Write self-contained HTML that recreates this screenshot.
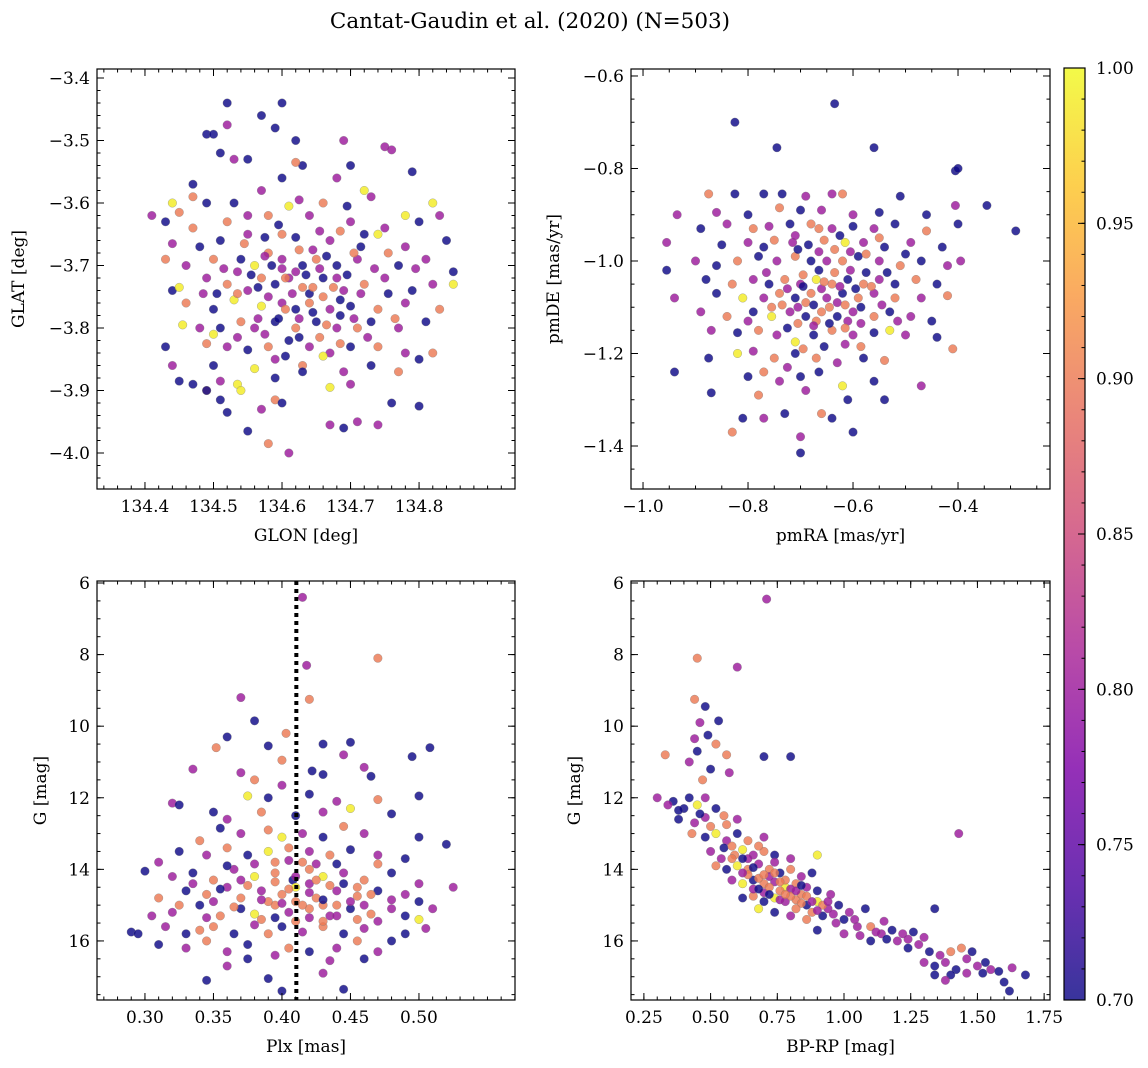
<!DOCTYPE html>
<html><head><meta charset="utf-8">
<style>
body{margin:0;background:#fff;}
svg{display:block;font-family:"DejaVu Serif","Liberation Serif",serif;}
</style></head>
<body>
<svg id="c" width="1148" height="1068">
<text x="530" y="28" font-size="21.5" text-anchor="middle">Cantat-Gaudin et al. (2020) (N=503)</text>
</svg>
<script>
// Panel 1: GLON, GLAT, membership
const p1Data=[[134.52,-3.44,.7],[134.60,-3.44,.7],[134.57,-3.46,.7],[134.52,-3.475,.8],[134.59,-3.48,.7],[134.49,-3.49,.7],[134.50,-3.49,.7],[134.62,-3.50,.7],[134.69,-3.50,.8],[134.75,-3.51,.8],[134.76,-3.515,.8],[134.51,-3.52,.7],[134.53,-3.53,.8],[134.55,-3.53,.7],[134.63,-3.54,.7],[134.62,-3.535,.9],[134.70,-3.54,.7],[134.79,-3.55,.7],[134.47,-3.57,.7],[134.60,-3.56,.7],[134.68,-3.56,.8],[134.57,-3.58,.8],[134.72,-3.58,.99],[134.73,-3.59,.8],[134.44,-3.60,.99],[134.47,-3.59,.9],[134.49,-3.60,.7],[134.53,-3.60,.7],[134.61,-3.605,.99],[134.66,-3.60,.9],[134.78,-3.62,.99],[134.82,-3.60,.99],[134.41,-3.62,.8],[134.43,-3.63,.7],[134.45,-3.615,.9],[134.47,-3.64,.9],[134.52,-3.63,.9],[134.55,-3.62,.8],[134.58,-3.62,.9],[134.64,-3.62,.8],[134.70,-3.63,.8],[134.75,-3.64,.8],[134.80,-3.63,.7],[134.83,-3.62,.8],[134.44,-3.665,.8],[134.48,-3.67,.7],[134.51,-3.66,.7],[134.55,-3.65,.8],[134.60,-3.65,.9],[134.62,-3.655,.7],[134.67,-3.66,.8],[134.72,-3.65,.7],[134.74,-3.65,.99],[134.78,-3.67,.8],[134.84,-3.66,.7],[134.43,-3.69,.9],[134.46,-3.70,.8],[134.50,-3.69,.9],[134.54,-3.69,.7],[134.56,-3.70,.99],[134.58,-3.68,.9],[134.60,-3.69,.8],[134.63,-3.70,.7],[134.65,-3.69,.9],[134.68,-3.70,.7],[134.71,-3.69,.8],[134.77,-3.70,.7],[134.81,-3.69,.8],[134.85,-3.71,.7],[134.44,-3.74,.7],[134.45,-3.735,.99],[134.49,-3.72,.8],[134.52,-3.73,.9],[134.55,-3.74,.8],[134.57,-3.72,.9],[134.59,-3.73,.7],[134.61,-3.72,.8],[134.63,-3.735,.9],[134.66,-3.72,.7],[134.69,-3.74,.8],[134.72,-3.73,.9],[134.75,-3.72,.8],[134.79,-3.74,.7],[134.82,-3.73,.8],[134.85,-3.73,.99],[134.46,-3.76,.9],[134.50,-3.77,.7],[134.53,-3.755,.99],[134.57,-3.765,.99],[134.60,-3.76,.8],[134.62,-3.77,.7],[134.64,-3.76,.9],[134.67,-3.77,.8],[134.70,-3.765,.7],[134.74,-3.77,.9],[134.78,-3.76,.8],[134.83,-3.77,.9],[134.455,-3.795,.99],[134.48,-3.80,.8],[134.51,-3.80,.7],[134.54,-3.79,.9],[134.56,-3.80,.8],[134.59,-3.79,.7],[134.62,-3.80,.9],[134.65,-3.79,.7],[134.68,-3.80,.8],[134.71,-3.80,.9],[134.73,-3.79,.7],[134.77,-3.80,.8],[134.81,-3.79,.7],[134.50,-3.81,.99],[134.43,-3.83,.7],[134.49,-3.825,.9],[134.52,-3.83,.8],[134.55,-3.835,.7],[134.58,-3.83,.9],[134.61,-3.82,.7],[134.64,-3.83,.8],[134.67,-3.84,.8],[134.70,-3.83,.7],[134.74,-3.83,.9],[134.78,-3.84,.8],[134.82,-3.84,.9],[134.44,-3.86,.8],[134.50,-3.86,.7],[134.56,-3.865,.99],[134.59,-3.85,.8],[134.63,-3.86,.9],[134.66,-3.845,.99],[134.69,-3.87,.8],[134.73,-3.86,.7],[134.77,-3.87,.9],[134.80,-3.85,.7],[134.45,-3.885,.7],[134.47,-3.89,.7],[134.49,-3.90,.9],[134.51,-3.885,.8],[134.535,-3.89,.99],[134.54,-3.90,.99],[134.59,-3.88,.7],[134.63,-3.87,.7],[134.67,-3.895,.99],[134.70,-3.89,.8],[134.76,-3.92,.7],[134.80,-3.925,.7],[134.49,-3.90,.7],[134.51,-3.915,.7],[134.52,-3.935,.7],[134.57,-3.93,.8],[134.59,-3.915,.9],[134.60,-3.92,.7],[134.55,-3.965,.7],[134.58,-3.985,.9],[134.61,-4.00,.8],[134.67,-3.955,.8],[134.69,-3.96,.7],[134.71,-3.95,.8],[134.74,-3.955,.8],[134.62,-3.71,.8],[134.64,-3.745,.7],[134.60,-3.705,.8],[134.66,-3.75,.9],[134.58,-3.75,.8],[134.68,-3.72,.8],
[134.585,-3.70,.7],[134.605,-3.72,.9],[134.615,-3.745,.8],[134.635,-3.715,.7],[134.655,-3.705,.8],[134.675,-3.735,.9],[134.695,-3.715,.7],[134.715,-3.745,.8],[134.595,-3.785,.7],[134.625,-3.785,.8],[134.645,-3.775,.7],[134.665,-3.795,.9],[134.685,-3.78,.7],[134.705,-3.785,.8],[134.575,-3.685,.8],[134.645,-3.675,.8],[134.665,-3.685,.7],[134.705,-3.68,.9],[134.555,-3.715,.7],[134.535,-3.745,.9],[134.565,-3.785,.8],[134.625,-3.815,.7],[134.655,-3.815,.9],[134.725,-3.815,.8],[134.755,-3.745,.7],[134.735,-3.705,.8],[134.515,-3.705,.8],[134.545,-3.665,.9],[134.575,-3.655,.7],[134.655,-3.645,.8],[134.685,-3.645,.9],[134.595,-3.635,.7],[134.625,-3.595,.8],[134.695,-3.605,.7],[134.505,-3.745,.7],[134.765,-3.785,.9],[134.795,-3.705,.8],[134.535,-3.815,.8],[134.605,-3.845,.7],[134.685,-3.825,.9],[134.625,-3.675,.9],[134.565,-3.735,.7],[134.645,-3.735,.9],[134.685,-3.755,.7],[134.605,-3.77,.9],[134.575,-3.81,.8],[134.715,-3.67,.7],[134.535,-3.71,.8],[134.755,-3.68,.9],[134.485,-3.745,.8]];
// Panel 2: pmRA, pmDE, membership
const p2Data=[[-.635,-.66,.7],[-.825,-.70,.7],[-.745,-.755,.7],[-.56,-.755,.7],[-.405,-.805,.7],[-.40,-.80,.7],[-.29,-.935,.7],[-.345,-.88,.7],[-.875,-.855,.9],[-.825,-.855,.7],[-.77,-.855,.7],[-.735,-.855,.7],[-.69,-.86,.8],[-.64,-.855,.8],[-.62,-.855,.9],[-.51,-.86,.7],[-.405,-.88,.8],[-.935,-.90,.8],[-.86,-.895,.8],[-.80,-.90,.7],[-.74,-.885,.9],[-.70,-.89,.7],[-.66,-.89,.8],[-.60,-.90,.8],[-.55,-.895,.7],[-.46,-.90,.7],[-.89,-.93,.7],[-.84,-.92,.8],[-.79,-.93,.9],[-.76,-.925,.8],[-.72,-.92,.7],[-.68,-.92,.9],[-.64,-.93,.8],[-.60,-.925,.7],[-.56,-.93,.8],[-.52,-.92,.7],[-.46,-.935,.9],[-.40,-.92,.7],[-.955,-.96,.8],[-.85,-.965,.7],[-.80,-.96,.8],[-.75,-.955,.9],[-.715,-.96,.8],[-.685,-.965,.7],[-.655,-.955,.9],[-.615,-.96,.99],[-.58,-.96,.8],[-.54,-.97,.7],[-.49,-.96,.8],[-.43,-.97,.7],[-.955,-1.02,.7],[-.90,-1.0,.8],[-.86,-1.01,.7],[-.82,-1.0,.9],[-.78,-.99,.7],[-.745,-1.0,.8],[-.71,-.99,.9],[-.68,-1.0,.7],[-.65,-1.0,.8],[-.62,-1.0,.9],[-.59,-.99,.7],[-.55,-1.0,.8],[-.51,-1.01,.9],[-.47,-1.0,.7],[-.42,-1.01,.8],[-.395,-1.0,.8],[-.88,-1.04,.7],[-.83,-1.05,.9],[-.79,-1.04,.8],[-.76,-1.05,.7],[-.73,-1.04,.9],[-.70,-1.05,.8],[-.67,-1.04,.99],[-.64,-1.05,.9],[-.61,-1.04,.7],[-.58,-1.05,.9],[-.55,-1.04,.8],[-.52,-1.05,.7],[-.48,-1.04,.9],[-.44,-1.05,.7],[-.94,-1.08,.8],[-.86,-1.07,.7],[-.81,-1.08,.99],[-.77,-1.08,.8],[-.74,-1.07,.9],[-.71,-1.08,.7],[-.68,-1.07,.9],[-.65,-1.08,.8],[-.62,-1.07,.7],[-.59,-1.08,.9],[-.56,-1.07,.8],[-.52,-1.08,.9],[-.47,-1.08,.8],[-.42,-1.075,.9],[-.89,-1.11,.8],[-.84,-1.12,.9],[-.79,-1.11,.7],[-.755,-1.12,.99],[-.72,-1.11,.8],[-.69,-1.12,.7],[-.66,-1.11,.9],[-.63,-1.12,.7],[-.60,-1.11,.8],[-.56,-1.12,.9],[-.53,-1.11,.7],[-.49,-1.12,.8],[-.45,-1.13,.7],[-.87,-1.15,.8],[-.82,-1.155,.7],[-.78,-1.15,.9],[-.745,-1.16,.8],[-.71,-1.175,.99],[-.675,-1.16,.7],[-.64,-1.15,.9],[-.60,-1.16,.8],[-.56,-1.155,.7],[-.53,-1.15,.99],[-.50,-1.16,.8],[-.44,-1.165,.7],[-.875,-1.21,.7],[-.82,-1.20,.99],[-.79,-1.195,.8],[-.75,-1.21,.9],[-.71,-1.20,.7],[-.67,-1.21,.9],[-.63,-1.22,.8],[-.58,-1.21,.7],[-.54,-1.215,.9],[-.41,-1.19,.9],[-.94,-1.24,.7],[-.80,-1.25,.7],[-.77,-1.24,.9],[-.74,-1.26,.8],[-.70,-1.25,.7],[-.62,-1.27,.99],[-.56,-1.26,.7],[-.47,-1.27,.8],[-.87,-1.285,.7],[-.78,-1.29,.9],[-.69,-1.28,.8],[-.61,-1.30,.7],[-.54,-1.30,.7],[-.81,-1.34,.7],[-.77,-1.34,.8],[-.73,-1.33,.7],[-.66,-1.33,.9],[-.64,-1.34,.7],[-.83,-1.37,.9],[-.70,-1.38,.8],[-.60,-1.37,.7],[-.70,-1.415,.7],[-.66,-1.06,.8],[-.69,-1.09,.9],[-.63,-1.09,.8],[-.67,-1.13,.9],[-.61,-1.13,.8],
[-.695,-1.03,.9],[-.665,-1.02,.7],[-.635,-1.025,.9],[-.605,-1.02,.8],[-.575,-1.025,.7],[-.725,-1.06,.8],[-.695,-1.055,.7],[-.655,-1.045,.9],[-.625,-1.055,.8],[-.595,-1.06,.7],[-.565,-1.055,.9],[-.735,-1.095,.9],[-.705,-1.1,.8],[-.675,-1.095,.7],[-.645,-1.1,.9],[-.615,-1.095,.9],[-.585,-1.1,.7],[-.545,-1.095,.8],[-.705,-1.135,.9],[-.675,-1.14,.8],[-.645,-1.135,.7],[-.615,-1.145,.9],[-.585,-1.135,.8],[-.725,-1.145,.7],[-.665,-.98,.8],[-.635,-.975,.9],[-.705,-.975,.7],[-.605,-.98,.8],[-.575,-.985,.9],[-.765,-1.025,.8],[-.535,-1.025,.7],[-.755,-1.1,.9],[-.515,-1.13,.8],[-.655,-1.185,.7],[-.695,-1.19,.9],[-.615,-1.18,.8],[-.585,-1.185,.9],[-.725,-1.23,.8],[-.665,-1.24,.7],[-.625,-.945,.7],[-.665,-.93,.9],[-.71,-.945,.8],[-.55,-.95,.9],[-.77,-.97,.7],[-.5,-.985,.7],[-.8,-1.13,.8]];
// Panel 3: Plx, G, membership
const p3Data=[[.415,6.4,.8],[.47,8.1,.9],[.418,8.3,.8],[.42,9.25,.9],[.37,9.2,.8],[.38,9.85,.7],[.352,10.6,.9],[.36,10.3,.7],[.403,10.2,.9],[.43,10.5,.7],[.45,10.45,.7],[.508,10.6,.7],[.39,10.55,.7],[.445,10.8,.8],[.495,10.85,.7],[.40,10.95,.9],[.422,11.25,.7],[.46,11.15,.8],[.37,11.3,.8],[.335,11.2,.8],[.38,11.5,.9],[.43,11.35,.7],[.465,11.4,.7],[.40,11.65,.8],[.32,12.15,.8],[.325,12.2,.7],[.375,11.95,.99],[.39,12.0,.7],[.42,11.9,.7],[.44,12.1,.8],[.47,12.05,.9],[.50,11.95,.7],[.35,12.4,.7],[.36,12.6,.8],[.385,12.4,.9],[.41,12.5,.7],[.43,12.4,.8],[.45,12.3,.99],[.48,12.45,.7],[.34,13.2,.9],[.355,12.85,.7],[.37,13.0,.8],[.39,12.9,.9],[.40,13.1,.99],[.415,13.0,.8],[.43,13.1,.7],[.445,12.8,.9],[.46,13.0,.8],[.50,13.1,.7],[.52,13.3,.7],[.31,13.8,.8],[.325,13.5,.7],[.345,13.6,.8],[.36,13.4,.9],[.375,13.6,.7],[.39,13.5,.99],[.405,13.4,.9],[.42,13.5,.8],[.435,13.6,.9],[.45,13.45,.7],[.47,13.6,.8],[.49,13.7,.7],[.30,14.05,.7],[.32,14.2,.8],[.335,14.1,.7],[.35,14.3,.9],[.365,14.0,.8],[.38,14.2,.99],[.395,14.1,.9],[.408,14.3,.7],[.42,14.0,.9],[.43,14.2,.99],[.445,14.1,.8],[.46,14.3,.9],[.48,14.1,.7],[.50,14.4,.8],[.525,14.5,.8],[.31,14.8,.9],[.33,14.6,.7],[.345,14.7,.9],[.36,14.5,.8],[.37,14.8,.9],[.385,14.6,.8],[.40,14.7,.9],[.41,14.5,.99],[.425,14.8,.9],[.44,14.6,.8],[.455,14.75,.9],[.47,14.6,.7],[.49,14.7,.8],[.32,15.2,.8],[.34,15.0,.7],[.355,15.3,.9],[.37,15.1,.7],[.38,15.25,.99],[.395,15.0,.9],[.405,15.2,.8],[.42,15.1,.9],[.435,15.3,.8],[.45,15.1,.7],[.465,15.25,.9],[.48,15.1,.8],[.50,15.4,.99],[.51,15.1,.8],[.315,15.6,.8],[.33,15.8,.7],[.35,15.6,.9],[.365,15.8,.7],[.38,15.55,.8],[.39,15.8,.9],[.40,15.6,.7],[.415,15.75,.8],[.43,15.6,.9],[.445,15.8,.7],[.46,15.65,.8],[.49,15.8,.7],[.505,15.65,.8],[.29,15.75,.7],[.295,15.8,.7],[.31,16.1,.7],[.33,16.2,.8],[.345,16.0,.9],[.36,16.3,.8],[.375,16.1,.7],[.395,16.4,.8],[.405,16.2,.9],[.42,16.3,.7],[.44,16.2,.8],[.46,16.5,.7],[.47,16.3,.8],[.345,17.1,.7],[.39,17.05,.7],[.40,17.4,.7],[.445,17.35,.7],[.43,16.9,.8],[.36,16.7,.8],[.41,14.9,.9],[.42,14.4,.8],[.39,14.9,.9],[.43,15.0,.9],
[.375,14.45,.9],[.385,14.85,.8],[.395,14.35,.9],[.40,14.95,.8],[.405,14.55,.9],[.41,14.2,.8],[.415,15.0,.9],[.42,14.65,.8],[.425,14.3,.9],[.43,14.85,.7],[.435,14.45,.9],[.44,15.0,.9],[.445,14.4,.7],[.45,14.9,.8],[.455,14.5,.9],[.46,15.0,.8],[.465,14.7,.9],[.37,14.3,.8],[.365,15.05,.9],[.355,14.55,.7],[.35,14.9,.8],[.385,15.4,.9],[.395,15.35,.7],[.41,15.45,.9],[.42,15.35,.8],[.43,15.45,.9],[.44,15.3,.8],[.455,15.4,.9],[.47,15.45,.8],[.415,13.8,.9],[.405,13.75,.8],[.395,13.8,.9],[.425,13.85,.8],[.44,13.85,.7],[.38,13.85,.8],[.36,13.9,.7],[.47,13.85,.9],[.48,14.85,.8],[.49,15.3,.7],[.345,15.35,.8],[.335,14.4,.8],[.34,15.7,.9],[.375,16.5,.7],[.435,16.55,.8],[.455,16.0,.9],[.48,16.0,.7],[.325,15.0,.9],[.305,15.3,.8],[.5,14.9,.7]];
// Panel 4: BP-RP, G, membership
const p4Data=[[.71,6.45,.8],[.45,8.1,.9],[.60,8.35,.8],[.44,9.25,.9],[.48,9.45,.7],[.53,9.85,.7],[.46,9.9,.8],[.44,10.35,.8],[.49,10.25,.7],[.52,10.5,.9],[.33,10.8,.9],[.45,10.7,.7],[.56,10.8,.9],[.70,10.85,.7],[.80,10.85,.7],[.42,11.0,.8],[.50,11.2,.7],[.47,11.5,.9],[.57,11.3,.8],[.30,12.0,.8],[.36,12.1,.7],[.40,12.3,.7],[.42,12.0,.7],[.45,12.2,.99],[.48,12.0,.8],[.52,12.3,.7],[.55,12.5,.9],[.38,12.6,.7],[.44,12.7,.8],[.50,12.8,.9],[.60,12.6,.8],[.43,13.0,.9],[.48,13.1,.7],[.52,13.0,.99],[.56,13.2,.8],[.60,13.0,.7],[.64,13.2,.9],[.70,13.1,.8],[1.43,13.0,.8],[.50,13.5,.8],[.55,13.4,.7],[.59,13.6,.9],[.62,13.45,.99],[.66,13.6,.8],[.70,13.5,.9],[.74,13.6,.7],[.80,13.7,.8],[.90,13.6,.99],[.52,13.9,.9],[.56,14.0,.7],[.60,13.9,.99],[.64,14.0,.9],[.68,13.85,.8],[.72,14.0,.9],[.76,14.1,.7],[.80,14.0,.9],[.84,14.2,.8],[.88,14.1,.7],[.58,14.3,.8],[.62,14.4,.99],[.66,14.3,.7],[.70,14.4,.9],[.74,14.35,.8],[.78,14.5,.99],[.82,14.4,.9],[.86,14.5,.8],[.90,14.6,.7],[.95,14.7,.8],[.62,14.8,.7],[.66,14.75,.9],[.70,14.9,.7],[.74,14.8,.99],[.78,14.9,.8],[.82,14.85,.9],[.86,15.0,.7],[.90,14.9,.99],[.94,15.1,.8],[.98,15.0,.7],[1.02,15.2,.8],[1.08,15.1,.7],[.68,15.1,.99],[.74,15.2,.7],[.80,15.3,.8],[.86,15.4,.9],[.92,15.3,.7],[.97,15.5,.8],[1.00,15.4,.7],[1.05,15.6,.8],[1.10,15.6,.9],[1.14,15.8,.8],[1.18,15.7,.7],[1.22,15.8,.8],[1.26,15.75,.7],[1.30,15.9,.8],[1.34,15.1,.7],[1.15,15.45,.8],[.90,15.7,.7],[1.00,15.8,.8],[1.10,16.0,.7],[1.20,16.0,.8],[1.24,16.2,.7],[1.28,16.1,.8],[1.32,16.3,.7],[1.36,16.4,.8],[1.40,16.3,.9],[1.44,16.2,.9],[1.48,16.3,.7],[1.30,16.6,.8],[1.34,16.7,.7],[1.38,16.6,.8],[1.42,16.8,.7],[1.46,16.5,.8],[1.50,16.7,.8],[1.53,16.6,.7],[1.55,16.8,.8],[1.58,16.85,.7],[1.63,16.75,.8],[1.68,16.95,.7],[1.40,16.95,.7],[1.60,17.15,.7],[1.62,17.4,.7],[1.38,17.1,.8],[1.34,16.95,.7],[.76,14.6,.9],[.72,14.2,.8],[.84,14.7,.9],[.80,14.55,.8],
[.64,14.15,.9],[.66,14.55,.8],[.68,14.25,.9],[.70,14.65,.8],[.72,14.5,.9],[.74,14.1,.9],[.76,14.85,.8],[.78,14.3,.9],[.80,14.75,.9],[.82,14.6,.8],[.84,14.95,.9],[.86,14.75,.9],[.88,14.9,.8],[.88,15.2,.9],[.92,15.0,.9],[.96,15.25,.8],[.68,14.55,.7],[.72,14.7,.7],[.76,14.35,.9],[.62,14.1,.8],[.58,13.7,.9],[.54,13.7,.8],[.64,13.7,.8],[.68,13.35,.9],[.66,13.95,.7],[.70,14.15,.9],[.78,14.7,.9],[.82,15.1,.9],[.90,15.15,.8],[1.04,15.4,.8],[1.12,15.75,.8],[1.16,15.95,.7],[1.06,15.85,.8],[1.24,15.95,.8],[.56,12.75,.9],[.48,12.55,.8],[.46,12.45,.7],[.38,12.35,.7],[.34,12.2,.8],[.58,13.35,.9],[.62,13.7,.7],[.74,13.8,.8],[.84,14.45,.7],[.94,14.9,.8],[1.52,16.9,.7],[1.46,16.9,.8]];
const p1XTicks=[134.4,134.5,134.6,134.7,134.8], p1YTicks=[-3.4,-3.5,-3.6,-3.7,-3.8,-3.9,-4.0];
const p2XTicks=[-1.0,-0.8,-0.6,-0.4], p2YTicks=[-0.6,-0.8,-1.0,-1.2,-1.4];
const p3XTicks=[0.30,0.35,0.40,0.45,0.50], gTicks=[6,8,10,12,14,16];
const p4XTicks=[0.25,0.50,0.75,1.00,1.25,1.50,1.75];
const cbTicks=[0.70,0.75,0.80,0.85,0.90,0.95,1.00];
const plxLine=[0.4105];

const svg=document.getElementById('c'),NS='http://www.w3.org/2000/svg';
function mk(t,a,p){const e=document.createElementNS(NS,t);for(const k in a)e.setAttribute(k,a[k]);(p||svg).appendChild(e);return e;}
const stops=['#0d0887','#4c02a1','#7e03a8','#a92395','#cc4778','#e56b5d','#f89540','#fdc527','#f0f921'];
function h2r(h){return [1,3,5].map(i=>parseInt(h.substr(i,2),16));}
function plasma(p){let t=Math.max(0,Math.min(1,(p-0.7)/0.3))*8;const i=Math.min(7,Math.floor(t)),f=t-i;const a=h2r(stops[i]),b=h2r(stops[i+1]);return 'rgb('+a.map((v,k)=>Math.round(v+(b[k]-v)*f)).join(',')+')';}
function fmt(v,d){return (v<0?'\u2212':'')+Math.abs(v).toFixed(d);}
const FS=17;
function panel(o){
  const {x0,x1,y0,y1,xmin,xmax,ymin,ymax}=o;
  const sx=v=>x0+(v-xmin)/(xmax-xmin)*(x1-x0), sy=v=>y0+(v-ymin)/(ymax-ymin)*(y1-y0);
  const g=mk('g',{});
  
  
  o.data.forEach(d=>{
    const c=mk('circle',{cx:sx(d[0]),cy:sy(d[1]),r:4.3,fill:plasma(d[2]),'fill-opacity':0.82,stroke:'#777','stroke-width':0.3},g);
    
    
  });
  if(o.vline){o.vline.forEach(v=>{const l=mk('line',{x1:sx(v),x2:sx(v),y1:y0,y2:y1,stroke:'#000','stroke-width':4,'stroke-dasharray':'4 4'},g);
    
    });}
  const fr=mk('rect',{x:x0,y:Math.min(y0,y1),width:x1-x0,height:Math.abs(y1-y0),fill:'none',stroke:'#000','stroke-width':1.2},g);
  
  
  const top=Math.min(y0,y1),bot=Math.max(y0,y1);
  const lo=Math.min(xmin,xmax),hi=Math.max(xmin,xmax);
  for(let v=Math.ceil(lo/o.xminor-1e-6)*o.xminor;v<=hi+1e-9;v+=o.xminor){const x=sx(v);mk('line',{x1:x,x2:x,y1:bot,y2:bot-3.5,stroke:'#000'},g);mk('line',{x1:x,x2:x,y1:top,y2:top+3.5,stroke:'#000'},g);}
  o.xt.forEach(v=>{const x=sx(v);mk('line',{x1:x,x2:x,y1:bot,y2:bot-7,stroke:'#000'},g);mk('line',{x1:x,x2:x,y1:top,y2:top+7,stroke:'#000'},g);
    const t=mk('text',{x:x,y:bot+23,'font-size':FS,'text-anchor':'middle'},g);t.textContent=fmt(v,o.xd);
    
    });
  const ylo=Math.min(ymin,ymax),yhi=Math.max(ymin,ymax);
  for(let v=Math.ceil(ylo/o.yminor-1e-6)*o.yminor;v<=yhi+1e-9;v+=o.yminor){const y=sy(v);mk('line',{x1:x0,x2:x0+3.5,y1:y,y2:y,stroke:'#000'},g);mk('line',{x1:x1,x2:x1-3.5,y1:y,y2:y,stroke:'#000'},g);}
  o.yt.forEach(v=>{const y=sy(v);mk('line',{x1:x0,x2:x0+7,y1:y,y2:y,stroke:'#000'},g);mk('line',{x1:x1,x2:x1-7,y1:y,y2:y,stroke:'#000'},g);
    const t=mk('text',{x:x0-7,y:y+6,'font-size':FS,'text-anchor':'end'},g);t.textContent=fmt(v,o.yd);
    
    });
  const xl=mk('text',{x:(x0+x1)/2,y:bot+52,'font-size':FS,'text-anchor':'middle'},g);xl.textContent=o.xl;
  
  
  const yx=o.ylx,yy=(top+bot)/2;
  const yl=mk('text',{x:yx,y:yy,'font-size':FS,'text-anchor':'middle',transform:'rotate(-90 '+yx+' '+yy+')'},g);yl.textContent=o.yl;
  
  
}
panel({name:'glon-glat-panel',data:p1Data,x0:97,x1:515,y0:69,y1:489,xmin:134.33,xmax:134.940,ymin:-3.3856,ymax:-4.0576,xt:p1XTicks,yt:p1YTicks,xminor:0.02,yminor:0.02,xd:1,yd:1,xl:'GLON [deg]',yl:'GLAT [deg]',ylx:24});
panel({name:'proper-motion-panel',data:p2Data,x0:631,x1:1050,y0:69,y1:489,xmin:-1.0229,xmax:-0.2248,ymin:-0.5849,ymax:-1.493,xt:p2XTicks,yt:p2YTicks,xminor:0.05,yminor:0.05,xd:1,yd:1,xl:'pmRA [mas/yr]',yl:'pmDE [mas/yr]',ylx:559});
panel({name:'parallax-magnitude-panel',data:p3Data,x0:97,x1:515,y0:581,y1:1000,xmin:0.265,xmax:0.5701,ymin:5.944,ymax:17.65,xt:p3XTicks,yt:gTicks,xminor:0.01,yminor:0.5,xd:2,yd:0,xl:'Plx [mas]',yl:'G [mag]',ylx:46,vline:plxLine});
panel({name:'color-magnitude-panel',data:p4Data,x0:631,x1:1050,y0:581,y1:1000,xmin:0.2017,xmax:1.7720,ymin:5.944,ymax:17.65,xt:p4XTicks,yt:gTicks,xminor:0.05,yminor:0.5,xd:2,yd:0,xl:'BP-RP [mag]',yl:'G [mag]',ylx:580});

const cb=mk('g',{});


const defs=mk('defs',{},cb),lg=mk('linearGradient',{id:'pl',x1:0,y1:1,x2:0,y2:0},defs);
stops.forEach((s,i)=>mk('stop',{offset:i/8,'stop-color':s,'stop-opacity':0.82},lg));
const cbx0=1064,cbx1=1085,cby0=1000,cby1=68,cs=v=>cby0+(v-0.7)/0.3*(cby1-cby0);
mk('rect',{x:cbx0,y:cby1,width:cbx1-cbx0,height:cby0-cby1,fill:'url(#pl)',stroke:'#000','stroke-width':1.2},cb);
for(let v=0.70;v<=1.0001;v+=0.01){mk('line',{x1:cbx1,x2:cbx1-3.5,y1:cs(v),y2:cs(v),stroke:'#000'},cb);}
cbTicks.forEach(v=>{const y=cs(v);mk('line',{x1:cbx1,x2:cbx1-7,y1:y,y2:y,stroke:'#000'},cb);
  const t=mk('text',{x:cbx1+11,y:y+6,'font-size':FS},cb);t.textContent=v.toFixed(2);
  
  });
</script>
</body></html>
